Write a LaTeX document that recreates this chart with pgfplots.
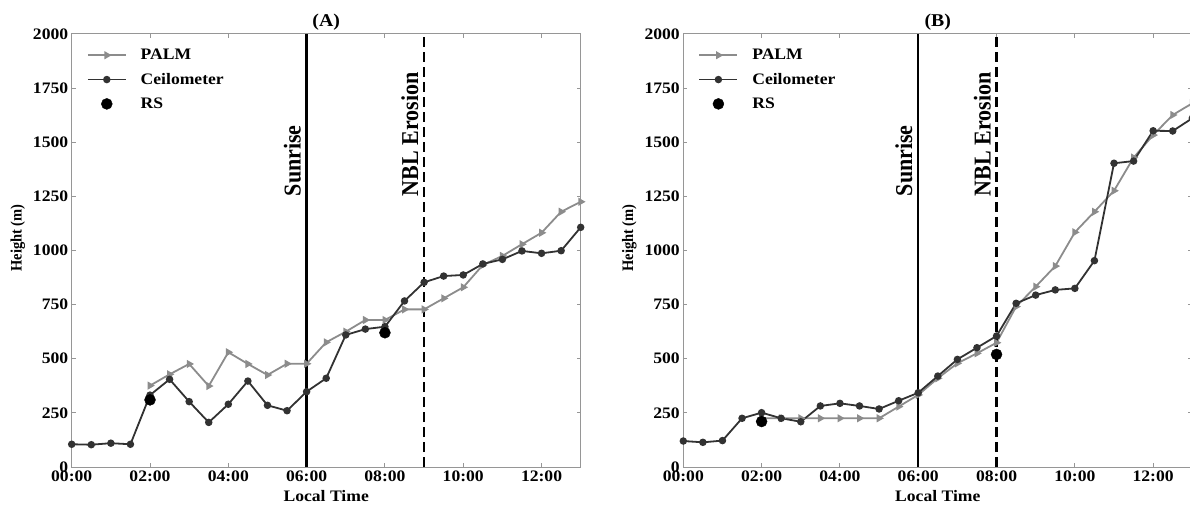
\documentclass[border=0pt]{standalone}
\usepackage{pgfplots}
\pgfplotsset{compat=1.18}
\usepackage{graphicx}
\usepackage{fontspec}
\setmainfont{Liberation Serif}[FakeStretch=1.1]
\newfontfamily\plainfont{Liberation Serif}
\definecolor{palm}{RGB}{140,140,140}
\definecolor{ceil}{RGB}{50,50,50}
\definecolor{framec}{RGB}{150,150,150}

\newcommand\vlab[1]{\scalebox{1.1}[1]{\rotatebox{90}{\fontsize{22}{22}\selectfont\plainfont\bfseries #1}}}

\pgfplotsset{
 panel/.style={
  scale only axis, width=509pt, height=433pt, anchor=south west,
  xmin=0, xmax=13, ymin=0, ymax=2000,
  xtick={0,2,...,12}, xticklabels={00:00,02:00,04:00,06:00,08:00,10:00,12:00},
  ytick={0,250,...,2000},
  tick align=inside, major tick length=4pt,
  axis line style={framec, line width=1pt},
  every tick/.style={framec, line width=1pt},
  tick label style={font=\fontsize{16}{16}\selectfont\bfseries},
  /pgf/number format/assume math mode=true,
  /pgf/number format/1000 sep={},
  xlabel={Local Time},
  every axis x label/.style={at={(axis description cs:0.5,0)}, anchor=center, yshift=-29pt, font=\fontsize{16}{16}\selectfont\bfseries},
  ylabel={\scalebox{1.1}[1]{\rotatebox{90}{\fontsize{14.5}{14.5}\selectfont\plainfont\bfseries Height (m)}}},
  every axis y label/.style={at={(axis description cs:-0.106,0.529)}, anchor=center},
  every axis title/.style={at={(axis description cs:0.5,1)}, anchor=center, yshift=12pt, font=\fontsize{18}{18}\selectfont\bfseries},
  legend style={draw=none, fill=none, at={(axis description cs:0,1)}, anchor=north west,
    xshift=15pt, yshift=-13pt, inner sep=0pt, row sep=8pt,
    font=\fontsize{16}{16}\selectfont\bfseries,
    /tikz/every odd column/.append style={column sep=12pt}},
  legend cell align=left,
  legend image code/.code={\draw[mark repeat=2,mark phase=2,##1] plot coordinates {(0pt,0pt) (19pt,0pt) (38pt,0pt)};},
 },
 palmst/.style={palm, line width=1.8pt, mark=triangle*, mark size=3pt, mark options={rotate=-90, fill=palm, draw=palm, solid}},
 ceilst/.style={ceil, line width=1.8pt, mark=*, mark size=2.8pt, mark options={fill=ceil, draw=ceil, solid}},
 rsst/.style={only marks, black, mark=*, mark size=5.5pt},
}

\begin{document}
\begin{tikzpicture}[x=1pt,y=1pt]
\useasboundingbox (0,0) rectangle (1190,506);

\begin{axis}[panel, at={(71.7pt,39pt)}, title={(A)}]
\addplot[palmst] coordinates {(2,376)(2.5,428)(3,476)(3.5,374)(4,530)(4.5,476)(5,425)(5.5,477)(6,477)(6.5,576)(7,625)(7.5,679)(8,679)(8.5,728)(9,728)(9.5,779)(10,830)(10.5,933)(11,975)(11.5,1029)(12,1082)(12.5,1179)(13,1225)};
\addlegendentry{PALM}
\addplot[ceilst] coordinates {(0,105)(0.5,103)(1,110)(1.5,105)(2,332)(2.5,405)(3,302)(3.5,206)(4,290)(4.5,397)(5,285)(5.5,260)(6,348)(6.5,410)(7,610)(7.5,637)(8,648)(8.5,767)(9,853)(9.5,882)(10,887)(10.5,938)(11,959)(11.5,998)(12,987)(12.5,999)(13,1107)};
\addlegendentry{Ceilometer}
\addplot[rsst] coordinates {(2,310)(8,620)};
\addlegendentry{RS}
\addplot[black, line width=2.5pt, forget plot] coordinates {(6,0)(6,2000)};
\addplot[black, line width=2.5pt, dash pattern=on 10pt off 5pt, forget plot] coordinates {(9,0)(9,2000)};
\node[anchor=south east, inner sep=0pt, xshift=-5.5pt] at (axis cs:6,1250) {\vlab{Sunrise}};
\node[anchor=south east, inner sep=0pt, xshift=-5.5pt] at (axis cs:9,1250) {\vlab{NBL Erosion}};
\end{axis}

\begin{axis}[panel, at={(683.3pt,39pt)}, title={(B)}]
\addplot[palmst] coordinates {(2,225)(2.5,225)(3,225)(3.5,225)(4,225)(4.5,225)(5,225)(5.5,279)(6,333)(6.5,410)(7,479)(7.5,525)(8,574)(8.5,741)(9,833)(9.5,928)(10,1084)(10.5,1179)(11,1276)(11.5,1429)(12,1533)(12.5,1626)(13,1680)};
\addlegendentry{PALM}
\addplot[ceilst] coordinates {(0,120)(0.5,114)(1,122)(1.5,225)(2,251)(2.5,225)(3,209)(3.5,282)(4,294)(4.5,282)(5,268)(5.5,306)(6,343)(6.5,420)(7,497)(7.5,551)(8,605)(8.5,756)(9,794)(9.5,818)(10,825)(10.5,953)(11,1403)(11.5,1413)(12,1553)(12.5,1552)(13,1611)};
\addlegendentry{Ceilometer}
\addplot[rsst] coordinates {(2,210)(8,520)};
\addlegendentry{RS}
\addplot[black, line width=2.5pt, forget plot] coordinates {(6,0)(6,2000)};
\addplot[black, line width=2.5pt, dash pattern=on 10pt off 5pt, forget plot] coordinates {(8,0)(8,2000)};
\node[anchor=south east, inner sep=0pt, xshift=-5.5pt] at (axis cs:6,1250) {\vlab{Sunrise}};
\node[anchor=south east, inner sep=0pt, xshift=-5.5pt] at (axis cs:8,1250) {\vlab{NBL Erosion}};
\end{axis}
\end{tikzpicture}
\end{document}
